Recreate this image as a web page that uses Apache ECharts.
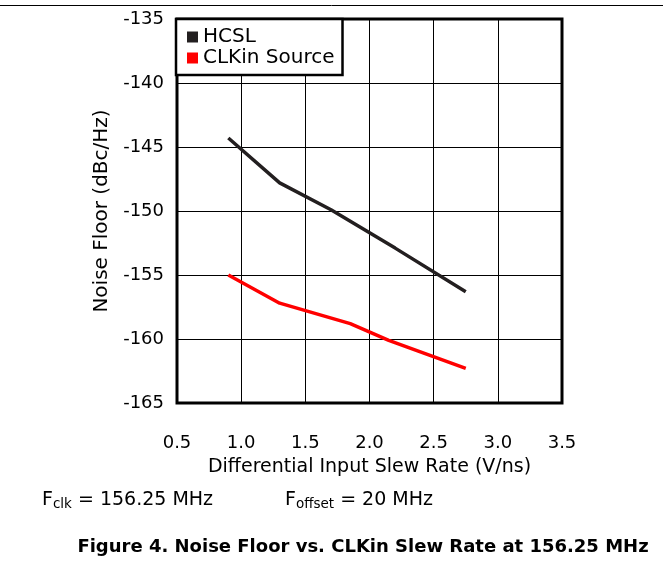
<!DOCTYPE html>
<html>
<head>
<meta charset="utf-8">
<script src="https://cdn.jsdelivr.net/npm/echarts@6/dist/echarts.min.js"></script>
<style>
  html, body { margin: 0; padding: 0; background: #fff; }
  #chart { width: 663px; height: 563px; }
</style>
</head>
<body>
<div id="chart"></div>
<script>
'use strict';

// values
const hcslX = [0.9, 1.3, 1.7, 2.2, 2.75];
const hcslY = [-144.3, -147.8, -149.9, -152.9, -156.3];
const clkinX = [0.9, 1.3, 1.85, 2.15, 2.45, 2.75];
const clkinY = [-155.0, -157.2, -158.8, -160.1, -161.2, -162.3];
const xTicks = [0.5, 3.5, 0.5];      // min, max, step
const yTicks = [-165, -135, 5];
const font = 'DejaVu Sans, Arial, sans-serif';

const pairs = (xs, ys) => xs.map((x, i) => [x, ys[i]]);

const chart = echarts.init(document.getElementById('chart'), null, { renderer: 'canvas' });

const subRich = {
    n: { fontFamily: font, fontSize: 19, fill: '#000' },
    s: { fontFamily: font, fontSize: 13.5, fill: '#000', padding: [9, 0, 0, 0] },
};

chart.setOption({
    animation: false,
    textStyle: { fontFamily: font, color: '#000' },
    grid: {
        left: 177, right: 101, top: 19, bottom: 160,
        show: true, borderColor: '#000', borderWidth: 3, backgroundColor: 'transparent',
    },
    legend: {
        left: 176, top: 19, orient: 'vertical',
        padding: [8, 8, 7, 11], itemGap: 1,
        itemWidth: 11, itemHeight: 11,
        backgroundColor: '#fff', borderColor: '#000', borderWidth: 2.5,
        textStyle: { fontFamily: font, fontSize: 20, color: '#000' },
        data: [
            { name: 'HCSL', icon: 'rect' },
            { name: 'CLKin Source', icon: 'rect' },
        ],
    },
    xAxis: {
        type: 'value', min: xTicks[0], max: xTicks[1], interval: xTicks[2],
        name: 'Differential Input Slew Rate (V/ns)', nameLocation: 'middle', nameGap: 55,
        nameTextStyle: { fontFamily: font, fontSize: 19, color: '#000' },
        axisLine: { show: false }, axisTick: { show: false },
        axisLabel: { margin: 31, fontSize: 18, color: '#000', fontFamily: font,
            formatter: v => v.toFixed(1) },
        splitLine: { show: true, lineStyle: { color: '#000', width: 1 } },
    },
    yAxis: {
        type: 'value', min: yTicks[0], max: yTicks[1], interval: yTicks[2],
        name: 'Noise Floor (dBc/Hz)', nameLocation: 'middle', nameGap: 63,
        nameTextStyle: { fontFamily: font, fontSize: 20, color: '#000' },
        axisLine: { show: false }, axisTick: { show: false },
        axisLabel: { margin: 13, fontSize: 18, color: '#000', fontFamily: font },
        splitLine: { show: true, lineStyle: { color: '#000', width: 1 } },
    },
    series: [
        {
            name: 'HCSL', type: 'line', data: pairs(hcslX, hcslY),
            showSymbol: false, color: '#231f20',
            lineStyle: { width: 3.5, color: '#231f20' }, z: 3,
        },
        {
            name: 'CLKin Source', type: 'line', data: pairs(clkinX, clkinY),
            showSymbol: false, color: '#ff0000',
            lineStyle: { width: 3.5, color: '#ff0000' }, z: 3,
        },
    ],
    graphic: [
        { type: 'line', shape: { x1: 0, y1: 5.5, x2: 663, y2: 5.5 }, style: { stroke: '#000', lineWidth: 1 } },
        {
            type: 'text', x: 42, y: 500,
            style: { text: '{n|F}{s|clk}{n| = 156.25 MHz}', rich: subRich, verticalAlign: 'middle' },
        },
        {
            type: 'text', x: 285, y: 500,
            style: { text: '{n|F}{s|offset}{n| = 20 MHz}', rich: subRich, verticalAlign: 'middle' },
        },
        {
            type: 'text', x: 363, y: 547,
            style: {
                text: 'Figure 4. Noise Floor vs. CLKin Slew Rate at 156.25 MHz',
                fontFamily: font, fontSize: 18, fontWeight: 'bold', fill: '#000',
                align: 'center', verticalAlign: 'middle',
            },
        },
    ],
});
</script>
</body>
</html>
